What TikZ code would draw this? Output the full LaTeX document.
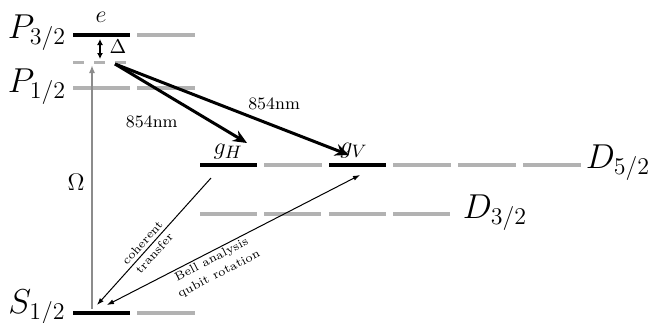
\documentclass[tikz,border=0pt]{standalone}
\usetikzlibrary{arrows.meta}
\tikzset{
  lvl/.style={line width=1.7pt, black},
  glvl/.style={line width=1.7pt, black!30},
  virt/.style={line width=1.5pt, black!30, dash pattern=on 5.5pt off 5pt},
  pump/.style={-{Stealth[length=7pt, width=6pt]}, line width=1.5pt},
  drive/.style={-{Latex[length=4pt, width=3pt]}, line width=0.8pt, black!45},
  xfer/.style={-{Latex[length=3.5pt, width=2.5pt]}, line width=0.5pt},
  term/.style={font=\LARGE, inner sep=1pt},
  state/.style={font=\fontsize{13}{15}\selectfont},
  wave/.style={font=\fontsize{8.7}{10}\selectfont},
  tag/.style={font=\fontsize{6}{8}\selectfont, align=center, inner sep=1pt},
}

\begin{document}
\begin{tikzpicture}[x=0.5pt, y=-0.5pt]
    \useasboundingbox (0,0) rectangle (663,322);
    % levels
    \draw[lvl] (73,35) -- (130,35);
    \draw[glvl] (137,35) -- (195,35);
    \draw[virt] (73,62) -- (126,62);
    \draw[glvl] (73,88) -- (130,88);
    \draw[glvl] (137,88) -- (195,88);
    \draw[lvl] (73,313) -- (130,313);
    \draw[glvl] (137,313) -- (195,313);
    \draw[lvl] (200,165) -- (257,165);
    \draw[glvl] (264,165) -- (322,165);
    \draw[lvl] (329,165) -- (386,165);
    \foreach \x in {393,458,523}
      \draw[glvl] (\x,165) -- (\x+58,165);
    \foreach \x in {200,264,329,393}
      \draw[glvl] (\x,214) -- (\x+57,214);
    % term labels
    \node[term] (p32) at (37,33) {$P_{3/2}$};
    \node[term] (p12) at (37,87) {$P_{1/2}$};
    \node[term] (s12) at (37,308) {$S_{1/2}$};
    \node[term] (d52) at (618,163) {$D_{5/2}$};
    \node[term] (d32) at (495,213) {$D_{3/2}$};
    % states
    \node[state] (e) at (101,17) {$e$};
    \node[state] (gh) at (228,152) {$g_H$};
    \node[state] (gv) at (354,151) {$g_V$};
    \coordinate (vir) at (115,64);
    \coordinate (dtop) at (100,39);
    \coordinate (dbot) at (100,59);
    \coordinate (sbot) at (92,309);
    \coordinate (stop) at (92,65);
    \coordinate (ghin) at (247,143);
    \coordinate (gvin) at (349,155);
    \coordinate (ghout) at (211,178);
    \coordinate (gvout) at (360,175);
    \coordinate (sa) at (97,305);
    \coordinate (sb) at (107,305);
    % detuning
    \draw[{Latex[length=3pt, width=3pt]}-{Latex[length=3pt, width=3pt]}, line width=0.6pt] (dtop) -- (dbot);
    \node (delta) at (118,47) {$\Delta$};
    % drive
    \draw[drive] (sbot) -- (stop);
    \node[state] (om) at (76,182) {$\Omega$};
    % 854 nm
    \draw[pump] (vir) -- (ghin) node[pos=0.43, below left, wave, xshift=7pt, yshift=-5pt]{854nm};
    \draw[pump] (vir) -- (gvin) node[pos=0.68, above, wave, yshift=4pt]{854nm};
    % transfer
    \draw[xfer] (ghout) -- (sa) node[pos=0.55, sloped, tag]{coherent\\transfer};
    \draw[xfer, {Latex[length=3.5pt, width=2.5pt]}-{Latex[length=3.5pt, width=2.5pt]}] (sb) -- (gvout) node[pos=0.40, sloped, below, tag]{Bell analysis\\qubit rotation};
  \end{tikzpicture}
\end{document}
